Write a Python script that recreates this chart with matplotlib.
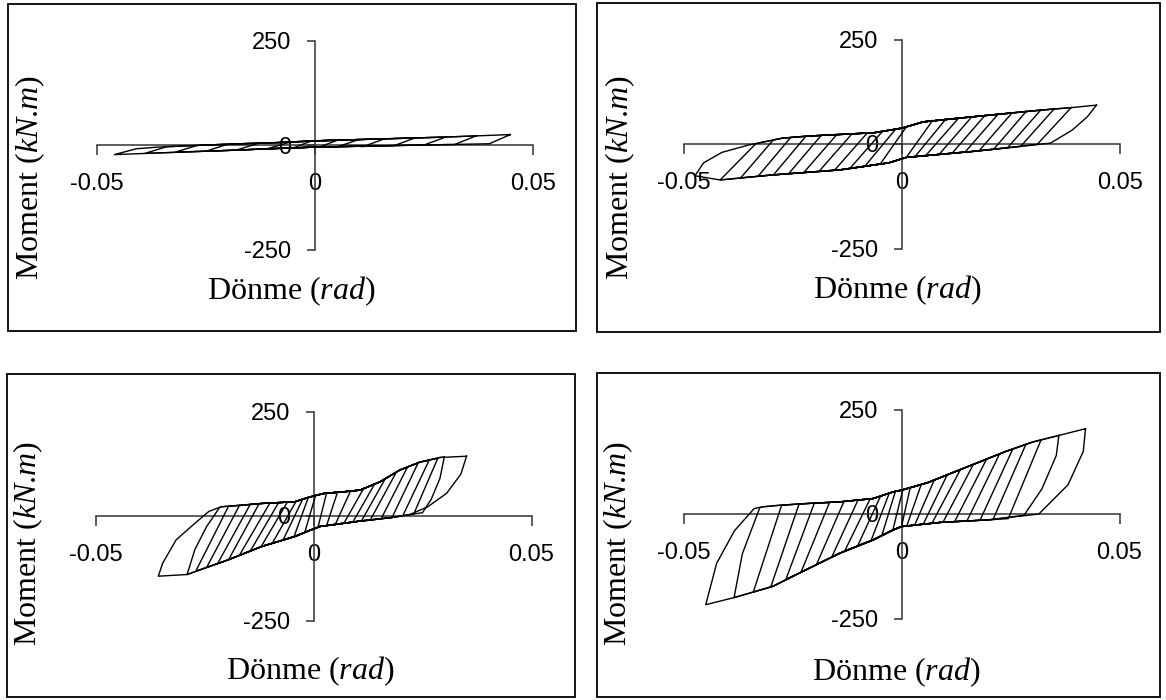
import matplotlib
matplotlib.use("Agg")
import matplotlib.pyplot as plt
from matplotlib.patches import Rectangle

plt.rcParams['mathtext.fontset'] = 'custom'
plt.rcParams['mathtext.rm'] = 'Liberation Serif'
plt.rcParams['mathtext.it'] = 'Liberation Serif:italic'

# ---- okunan degerler (donme rad, moment kN.m) ----
# Sol ust
tl_up_rot = [-0.046, -0.043, -0.036, -0.020, -0.008, 0.0, 0.010, 0.020, 0.030, 0.040, 0.0448]
tl_up_mom = [-22, -12, -5, 2, 6, 10, 13, 16, 19, 23, 25]
tl_lo_rot = [-0.046, -0.036, -0.020, -0.008, 0.0, 0.010, 0.020, 0.030, 0.040]
tl_lo_mom = [-23, -19, -13, -8, -5, -3, -1, 1, 3]
tl_pos_rot = [0.0448, 0.037, 0.030, 0.023, 0.016, 0.010, 0.005]
tl_pos_mom = [25, 22, 19, 17, 15, 13, 11]
tl_pos_end_rot = [0.040, 0.032, 0.025, 0.018, 0.011, 0.005, 0.001]
tl_pos_end_mom = [3, 1, 0, -2, -4, -5, -5]
tl_pos_bends = []
tl_neg_rot = [-0.046, -0.039, -0.032, -0.025, -0.018, -0.011, -0.005]
tl_neg_mom = [-23, -20, -17, -15, -12, -9, -7]
tl_neg_end_rot = [-0.041, -0.034, -0.027, -0.020, -0.013, -0.006, -0.001]
tl_neg_end_mom = [-9, -4, -1, 2, 4, 6, 9]
tl_neg_bends = []

# Sag ust
tr_up_rot = [-0.035, -0.0274, -0.0215, -0.0064, 0.0, 0.0049, 0.0161, 0.0318, 0.0388, 0.0446]
tr_up_mom = [-2, 14, 19, 27, 38, 53, 65, 81, 87, 93]
tr_lo_rot = [-0.0475, -0.0417, -0.0297, -0.0143, -0.003, 0.001, 0.016, 0.034]
tr_lo_mom = [-76, -86, -74, -62, -45, -32, -18, 2]
tr_pos_rot = [0.0446, 0.0388, 0.0349, 0.0318, 0.0285, 0.0252, 0.0220, 0.0190, 0.0160, 0.0130, 0.0100, 0.0070]
tr_pos_mom = [93, 87, 84, 81, 78, 74, 71, 68, 65, 62, 59, 56]
tr_pos_end_rot = [0.0342, 0.0310, 0.0272, 0.0242, 0.0210, 0.0177, 0.0145, 0.0115, 0.0085, 0.0055, 0.0030, 0.0010]
tr_pos_end_mom = [3, -1, -6, -9, -13, -16, -19, -22, -25, -27, -30, -32]
tr_pos_bends = [[(0.0425, 65), (0.0390, 33)]]
tr_neg_rot = [-0.0475, -0.0417, -0.0370, -0.0330, -0.0295, -0.0260, -0.0225, -0.0190, -0.0155, -0.0120, -0.0085, -0.0050]
tr_neg_mom = [-76, -86, -81, -77, -74, -71, -68, -65, -63, -59, -53, -48]
tr_neg_end_rot = [-0.0350, -0.0335, -0.0295, -0.0255, -0.0220, -0.0185, -0.0150, -0.0115, -0.0080, -0.0045, -0.0015, 0.0010]
tr_neg_end_mom = [-2, 1, 10, 16, 19, 21, 22, 24, 26, 30, 35, 41]
tr_neg_bends = [[(-0.0455, -45), (-0.0413, -20)]]

# Sol alt
bl_up_rot = [-0.0254, -0.0212, -0.0119, -0.0043, -0.0010, 0.0024, 0.0070, 0.0107, 0.0153, 0.0198, 0.0244, 0.0290, 0.0351]
bl_up_mom = [6, 22, 30, 34, 45, 54, 58, 62, 82, 110, 129, 140, 143]
bl_lo_rot = [-0.0356, -0.0290, -0.0196, -0.0119, -0.0043, -0.0005, 0.0015, 0.0108, 0.0184, 0.0260]
bl_lo_mom = [-144, -140, -105, -73, -49, -33, -25, -12, -3, 10]
bl_pos_rot = [0.0351, 0.0300, 0.0285, 0.0265, 0.0240, 0.0215, 0.0190, 0.0165, 0.0140, 0.0115, 0.0085, 0.0055, 0.0030]
bl_pos_mom = [143, 141, 138, 133, 127, 116, 105, 90, 76, 66, 60, 57, 55]
bl_pos_end_rot = [0.0222, 0.0250, 0.0230, 0.0205, 0.0180, 0.0155, 0.0130, 0.0110, 0.0090, 0.0070, 0.0050, 0.0030, 0.0010]
bl_pos_end_mom = [4, 8, 5, 1, -4, -7, -10, -12, -15, -17, -20, -23, -28]
bl_pos_bends = [[(0.0338, 100), (0.0305, 54), (0.0262, 22)], [(0.0290, 90), (0.0270, 40)]]
bl_neg_rot = [-0.0356, -0.0290, -0.0270, -0.0245, -0.0220, -0.0195, -0.0170, -0.0145, -0.0120, -0.0095, -0.0070, -0.0045, -0.0020]
bl_neg_mom = [-144, -140, -132, -123, -114, -105, -94, -84, -73, -66, -58, -50, -39]
bl_neg_end_rot = [-0.0240, -0.0215, -0.0195, -0.0170, -0.0145, -0.0125, -0.0100, -0.0080, -0.0060, -0.0040, -0.0025, -0.0012, 0.0005]
bl_neg_end_mom = [11, 21, 23, 25, 28, 29, 31, 32, 33, 35, 40, 44, 50]
bl_neg_bends = [[(-0.0346, -113), (-0.0315, -57), (-0.0277, -22)], [(-0.0272, -80), (-0.0245, -25)]]

# Sag alt
br_up_rot = [-0.0320, -0.0279, -0.0218, -0.0142, -0.0065, -0.0019, 0.0, 0.006, 0.012, 0.018, 0.024, 0.030, 0.0361, 0.0422]
br_up_mom = [17, 21, 25, 29, 37, 53, 57, 75, 100, 125, 150, 172, 188, 204]
br_lo_rot = [-0.0449, -0.0384, -0.0295, -0.0218, -0.0142, -0.0065, -0.0019, 0.0, 0.009, 0.020, 0.032, 0.036]
br_lo_mom = [-217, -200, -173, -133, -94, -62, -38, -30, -20, -14, -5, 0]
br_pos_rot = [0.0422, 0.0361, 0.0320, 0.0285, 0.0255, 0.0225, 0.0195, 0.0165, 0.0135, 0.0105, 0.0075, 0.0045, 0.0020]
br_pos_mom = [204, 188, 177, 166, 155, 144, 131, 119, 106, 94, 81, 70, 63]
br_pos_end_rot = [0.0315, 0.0281, 0.0245, 0.0210, 0.0180, 0.0150, 0.0122, 0.0095, 0.0070, 0.0050, 0.0030, 0.0012, 0.0000]
br_pos_end_mom = [0, -3, -11, -13, -15, -17, -18, -20, -22, -24, -27, -29, -30]
br_pos_bends = [[(0.0417, 150), (0.0382, 70)], [(0.0355, 140), (0.0322, 60)]]
br_neg_rot = [-0.0449, -0.0384, -0.0340, -0.0300, -0.0265, -0.0230, -0.0195, -0.0160, -0.0130, -0.0100, -0.0070, -0.0045, -0.0020]
br_neg_mom = [-217, -200, -187, -175, -156, -138, -121, -103, -88, -75, -64, -51, -39]
br_neg_end_rot = [-0.0338, -0.0325, -0.0275, -0.0235, -0.0200, -0.0165, -0.0132, -0.0100, -0.0072, -0.0048, -0.0028, -0.0014, 0.0003]
br_neg_end_mom = [13, 15, 21, 24, 26, 28, 30, 33, 36, 43, 50, 54, 58]
br_neg_bends = [[(-0.0424, -118), (-0.0383, -40)], [(-0.0365, -95)]]

x_ticks = [-0.05, 0, 0.05]
x_tick_labels = ['-0.05', '0', '0.05']
y_ticks = [-250, 0, 250]
y_tick_labels = ['-250', '0', '250']

W, H = 1166, 700
fig = plt.figure(figsize=(W / 100, H / 100), dpi=100)

# panel yerlesimi (piksel): eksen orijini, kutu, etiket merkezleri
panels = [
    dict(o=(315, 145), box=(8, 4, 576, 331), ylab=(30, 177), xlab=(291, 291),
         up=(tl_up_rot, tl_up_mom), lo=(tl_lo_rot, tl_lo_mom),
         pos=(tl_pos_rot, tl_pos_mom, tl_pos_end_rot, tl_pos_end_mom, tl_pos_bends),
         neg=(tl_neg_rot, tl_neg_mom, tl_neg_end_rot, tl_neg_end_mom, tl_neg_bends)),
    dict(o=(902, 144), box=(597, 3, 1160, 332), ylab=(620, 177), xlab=(897, 290),
         up=(tr_up_rot, tr_up_mom), lo=(tr_lo_rot, tr_lo_mom),
         pos=(tr_pos_rot, tr_pos_mom, tr_pos_end_rot, tr_pos_end_mom, tr_pos_bends),
         neg=(tr_neg_rot, tr_neg_mom, tr_neg_end_rot, tr_neg_end_mom, tr_neg_bends)),
    dict(o=(313.5, 516), box=(7, 374, 575, 697), ylab=(28, 543), xlab=(310, 671),
         up=(bl_up_rot, bl_up_mom), lo=(bl_lo_rot, bl_lo_mom),
         pos=(bl_pos_rot, bl_pos_mom, bl_pos_end_rot, bl_pos_end_mom, bl_pos_bends),
         neg=(bl_neg_rot, bl_neg_mom, bl_neg_end_rot, bl_neg_end_mom, bl_neg_bends)),
    dict(o=(901.5, 514), box=(597, 373, 1160, 697), ylab=(618, 543), xlab=(896, 672),
         up=(br_up_rot, br_up_mom), lo=(br_lo_rot, br_lo_mom),
         pos=(br_pos_rot, br_pos_mom, br_pos_end_rot, br_pos_end_mom, br_pos_bends),
         neg=(br_neg_rot, br_neg_mom, br_neg_end_rot, br_neg_end_mom, br_neg_bends)),
]

hw, hh = 218, 104.5

for p in panels:
    ox, oy = p['o']
    ax = fig.add_axes([(ox - hw) / W, 1 - (oy + hh) / H, 2 * hw / W, 2 * hh / H])
    ax.set_xlim(-0.05, 0.05)
    ax.set_ylim(-250, 250)
    ax.patch.set_visible(False)
    for s in ['top', 'right']:
        ax.spines[s].set_visible(False)
    for s in ['left', 'bottom']:
        ax.spines[s].set_position(('data', 0))
        ax.spines[s].set_color('#333333')
        ax.spines[s].set_linewidth(1.1)
    ax.set_xticks(x_ticks, x_tick_labels, family='Liberation Sans')
    ax.set_yticks(y_ticks, y_tick_labels, family='Liberation Sans')
    ax.tick_params(axis='x', direction='out', length=7, width=1.1, pad=13,
                   labelsize=17, color='#333333')
    ax.tick_params(axis='y', direction='out', length=6, width=1.1, pad=11,
                   labelsize=17, color='#333333')

    up_r, up_m = p['up']
    lo_r, lo_m = p['lo']
    pr, pm, per, pem, pb = p['pos']
    nr, nm, ner, nem, nb = p['neg']
    for i in range(len(pr)):
        xs, ys = [pr[i]], [pm[i]]
        for bx, by in (pb[i] if i < len(pb) else []):
            xs.append(bx); ys.append(by)
        xs.append(per[i]); ys.append(pem[i])
        for x, y in sorted(zip(lo_r, lo_m), reverse=True):
            if nr[i] < x < per[i]:
                xs.append(x); ys.append(y)
        xs.append(nr[i]); ys.append(nm[i])
        for bx, by in (nb[i] if i < len(nb) else []):
            xs.append(bx); ys.append(by)
        xs.append(ner[i]); ys.append(nem[i])
        for x, y in zip(up_r, up_m):
            if ner[i] < x < pr[i]:
                xs.append(x); ys.append(y)
        xs.append(pr[i]); ys.append(pm[i])
        ax.plot(xs, ys, color='black', lw=1.0, zorder=3, clip_on=False)

    x0, y0, x1, y1 = p['box']
    fig.add_artist(Rectangle((x0 / W, 1 - y1 / H), (x1 - x0) / W, (y1 - y0) / H,
                             transform=fig.transFigure, fill=False, lw=1.3, ec='black'))
    fig.text(p['ylab'][0] / W, 1 - p['ylab'][1] / H, r'Moment ($\mathit{kN}$.$\mathit{m}$)',
             rotation=90, ha='center', va='center', fontsize=23, family='Liberation Serif')
    fig.text(p['xlab'][0] / W, 1 - p['xlab'][1] / H, r'Dönme ($\mathit{rad}$)',
             ha='center', va='center', fontsize=23, family='Liberation Serif')

fig.savefig('out.png', dpi=100)
